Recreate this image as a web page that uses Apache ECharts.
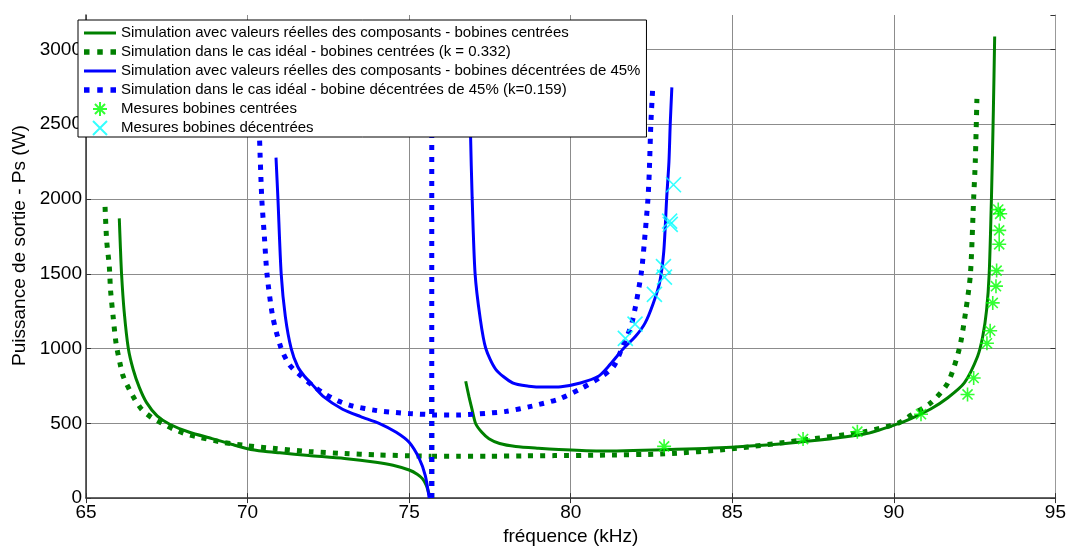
<!DOCTYPE html>
<html>
<head>
<meta charset="utf-8">
<script src="https://cdn.jsdelivr.net/npm/echarts@6/dist/echarts.min.js"></script>
<style>
html,body{margin:0;padding:0;background:#fff;}
#chart{width:1069px;height:551px;}
</style>
</head>
<body>
<div id="chart"></div>
<script>
// ---- axis settings ----
const X_MIN = 65, X_MAX = 95, X_STEP = 5;
const Y_MIN = 0, Y_MAX = 3230, Y_STEP = 500;
const X_TITLE = 'fréquence (kHz)';
const Y_TITLE = 'Puissance de sortie - Ps (W)';

// ---- series names ----
const NAME_G_REAL = 'Simulation avec valeurs réelles des composants - bobines centrées';
const NAME_G_IDEAL = 'Simulation dans le cas idéal - bobines centrées (k = 0.332)';
const NAME_B_REAL = 'Simulation avec valeurs réelles des composants - bobines décentrées de 45%';
const NAME_B_IDEAL = 'Simulation dans le cas idéal - bobine décentrées de 45% (k=0.159)';
const NAME_G_MEAS = 'Mesures bobines centrées';
const NAME_B_MEAS = 'Mesures bobines décentrées';

// ---- data: [frequency kHz, power W] ----
const greenRealLeft = [[66.03,1870],[66.06,1700],[66.10,1500],[66.18,1250],[66.31,1000],[66.46,860],[66.65,740],[66.87,640],[67.2,550],[67.59,494],[68.2,440],[68.9,398],[69.5,360],[70.0,330],[70.5,313],[71.0,303],[71.9,285],[73.0,265],[73.97,240],[74.5,220],[75.0,188],[75.25,160],[75.41,130],[75.52,90],[75.6,40],[75.65,0]];
const greenRealRight = [[76.75,781],[76.85,680],[76.95,590],[77.06,497],[77.25,440],[77.47,397],[77.8,365],[78.3,345],[79.0,333],[79.63,325],[80.86,315],[82.92,324],[84.97,340],[87.03,373],[89.09,428],[90.12,496],[90.53,532],[91.14,596],[91.67,671],[92.18,770],[92.59,947],[92.75,1080],[92.87,1258],[92.95,1499],[93.02,2007],[93.08,2600],[93.12,3086]];
const greenIdealLeft = [[65.59,1947],[65.64,1720],[65.72,1554],[65.76,1389],[65.84,1212],[65.93,1035],[66.05,903],[66.15,815],[66.34,727],[66.51,660],[66.72,594],[67.03,538],[67.34,501],[67.7,462],[68.11,428],[68.52,406],[69.24,373],[69.96,351],[70.78,333],[71.91,311],[73.0,298],[73.97,289],[75.0,283],[75.69,280]];
const greenIdealSpike = [[75.7,0],[75.7,730]];
const greenIdealRight = [[75.71,280],[76.5,280],[77.5,280],[78.5,282],[79.5,284],[80.86,287],[82.92,296],[84.97,329],[87.03,384],[89.09,444],[90.12,500],[90.53,554],[91.15,638],[91.67,770],[92.03,1002],[92.23,1258],[92.37,1499],[92.47,2007],[92.52,2250],[92.57,2669]];
const blueRealLeft = [[70.88,2276],[70.94,2000],[71.04,1500],[71.17,1212],[71.35,1000],[71.55,880],[71.76,815],[72.0,760],[72.33,682],[72.94,594],[73.5,545],[74.07,500],[74.6,440],[75.0,373],[75.31,265],[75.5,150],[75.62,0]];
const blueRealRight = [[76.86,2900],[76.9,2430],[76.95,2007],[77.04,1503],[77.2,1200],[77.37,1002],[77.68,861],[78.2,770],[78.7,748],[79.2,742],[79.7,745],[80.3,770],[80.86,815],[81.17,881],[81.64,1002],[82.0,1080],[82.3,1170],[82.55,1300],[82.75,1440],[82.88,1650],[82.97,2007],[83.04,2250],[83.08,2503],[83.13,2746]];
const blueIdealLeft = [[70.28,2950],[70.37,2404],[70.44,2000],[70.52,1750],[70.6,1500],[70.78,1212],[71.04,1000],[71.3,890],[71.66,815],[72.0,755],[72.33,704],[72.8,650],[73.25,616],[74.0,585],[74.59,572],[75.0,565],[75.69,558]];
const blueIdealSpike = [[75.7,0],[75.7,3100]];
const blueIdealRight = [[75.71,556],[76.5,556],[77.16,563],[78.0,580],[78.8,615],[79.63,662],[80.3,730],[80.97,815],[81.33,881],[81.58,1000],[81.89,1168],[82.18,1500],[82.3,1764],[82.39,2000],[82.43,2172],[82.48,2503],[82.54,2750]];
const measCentered = [[82.89,346],[87.19,395],[88.87,444],[90.84,561],[92.28,693],[92.47,803],[92.88,1035],[92.98,1119],[93.06,1305],[93.16,1417],[93.18,1521],[93.26,1697],[93.26,1790],[93.29,1901],[93.23,1929]];
const measOffset = [[83.18,2095],[83.06,1852],[83.08,1830],[82.87,1548],[82.9,1477],[82.59,1362],[81.99,1163],[81.69,1068]];

const FONT = "'Liberation Sans', Arial, sans-serif";
const DARK_GREEN = '#008000', BLUE = '#0000ff', LIME = '#00ff00', CYAN = '#00ffff';
const STAR = 'path://M0,-1L0,1M-1,0L1,0M-0.72,-0.72L0.72,0.72M-0.72,0.72L0.72,-0.72';
const CROSS = 'path://M-1,-1L1,1M-1,1L1,-1';
const ICON_SOLID = 'path://M0,0h32v3h-32z';
const ICON_DOTTED = 'path://M0,0h5v5h-5zM12,0h5v5h-5zM24,0h5v5h-5z';
const DOT = [5, 7];

function lineSeries(name, data, color, width, type, smooth) {
  return {
    type: 'line', name: name, data: data, symbol: 'none', showSymbol: false,
    smooth: smooth, color: color, lineStyle: { color: color, width: width, type: type },
    animation: false, z: 3, silent: true, clip: true
  };
}
function scatterSeries(name, data, color, sym, size) {
  return {
    type: 'scatter', name: name, data: data, symbol: sym, symbolSize: size,
    symbolKeepAspect: true,
    itemStyle: { color: color, borderColor: color, borderWidth: 1.6 },
    animation: false, z: 5, silent: true
  };
}

const chart = echarts.init(document.getElementById('chart'), null, { renderer: 'canvas' });
chart.setOption({
  backgroundColor: '#fff',
  animation: false,
  textStyle: { fontFamily: FONT },
  grid: { left: 86, right: 11, top: 15, bottom: 48 },
  xAxis: [{
    type: 'value', min: X_MIN, max: X_MAX, interval: X_STEP, position: 'bottom',
    axisLine: { show: true, lineStyle: { color: '#333', width: 1.5 } },
    axisTick: { show: true, inside: true, length: 5, lineStyle: { color: '#333' } },
    axisLabel: { fontSize: 19, color: '#000', margin: 5, fontFamily: FONT, formatter: v => String(v) },
    splitLine: { show: true, lineStyle: { color: '#8c8c8c', width: 1 } },
    name: X_TITLE, nameLocation: 'middle', nameGap: 27,
    nameTextStyle: { fontSize: 19, color: '#000', fontFamily: FONT }
  }, {
    type: 'value', min: X_MIN, max: X_MAX, interval: X_STEP, position: 'top',
    axisLine: { show: false },
    axisTick: { show: true, inside: true, length: 5, lineStyle: { color: '#333' } },
    axisLabel: { show: false }, splitLine: { show: false }
  }],
  yAxis: [{
    type: 'value', min: Y_MIN, max: Y_MAX, interval: Y_STEP, position: 'left',
    axisLine: { show: true, lineStyle: { color: '#333', width: 1.5 } },
    axisTick: { show: true, inside: true, length: 5, lineStyle: { color: '#333' } },
    axisLabel: { fontSize: 19, color: '#000', margin: 4, showMaxLabel: false, fontFamily: FONT, formatter: v => String(v) },
    splitLine: { show: true, showMaxLine: false, lineStyle: { color: '#8c8c8c', width: 1 } },
    name: Y_TITLE, nameLocation: 'middle', nameGap: 54,
    nameTextStyle: { fontSize: 19, color: '#000', fontFamily: FONT, padding: [0, 0, 0, 22] }
  }, {
    type: 'value', min: Y_MIN, max: Y_MAX, interval: Y_STEP, position: 'right',
    axisLine: { show: true, lineStyle: { color: '#999', width: 1 } },
    axisTick: { show: true, inside: true, length: 5, lineStyle: { color: '#333' } },
    axisLabel: { show: false }, splitLine: { show: false }
  }],
  legend: {
    orient: 'vertical', left: 78, top: 20, padding: [5, 6, 1, 6],
    itemGap: 3, itemWidth: 32, itemHeight: 14, itemTextGap: 5,
    backgroundColor: '#fff', borderColor: '#000', borderWidth: 1, borderRadius: 0,
    textStyle: { fontSize: 15, color: '#000', lineHeight: 16, fontFamily: FONT },
    selectedMode: false, z: 10,
    data: [
      { name: NAME_G_REAL, icon: ICON_SOLID, itemStyle: { color: DARK_GREEN, borderWidth: 0 } },
      { name: NAME_G_IDEAL, icon: ICON_DOTTED, itemStyle: { color: DARK_GREEN, borderWidth: 0 } },
      { name: NAME_B_REAL, icon: ICON_SOLID, itemStyle: { color: BLUE, borderWidth: 0 } },
      { name: NAME_B_IDEAL, icon: ICON_DOTTED, itemStyle: { color: BLUE, borderWidth: 0 } },
      { name: NAME_G_MEAS },
      { name: NAME_B_MEAS }
    ]
  },
  series: [
    lineSeries(NAME_G_REAL, greenRealLeft, DARK_GREEN, 3, 'solid', 0.25),
    lineSeries(NAME_G_REAL, greenRealRight, DARK_GREEN, 3, 'solid', 0.25),
    lineSeries(NAME_G_IDEAL, greenIdealLeft, DARK_GREEN, 5, DOT, 0.25),
    lineSeries(NAME_G_IDEAL, greenIdealSpike, DARK_GREEN, 5, DOT, false),
    lineSeries(NAME_G_IDEAL, greenIdealRight, DARK_GREEN, 5, DOT, 0.25),
    lineSeries(NAME_B_REAL, blueRealLeft, BLUE, 3, 'solid', 0.25),
    lineSeries(NAME_B_REAL, blueRealRight, BLUE, 3, 'solid', 0.25),
    lineSeries(NAME_B_IDEAL, blueIdealLeft, BLUE, 5, DOT, 0.25),
    lineSeries(NAME_B_IDEAL, blueIdealSpike, BLUE, 5, DOT, false),
    lineSeries(NAME_B_IDEAL, blueIdealRight, BLUE, 5, DOT, 0.25),
    scatterSeries(NAME_G_MEAS, measCentered, LIME, STAR, 14),
    scatterSeries(NAME_B_MEAS, measOffset, CYAN, CROSS, 15)
  ]
});
</script>
</body>
</html>
